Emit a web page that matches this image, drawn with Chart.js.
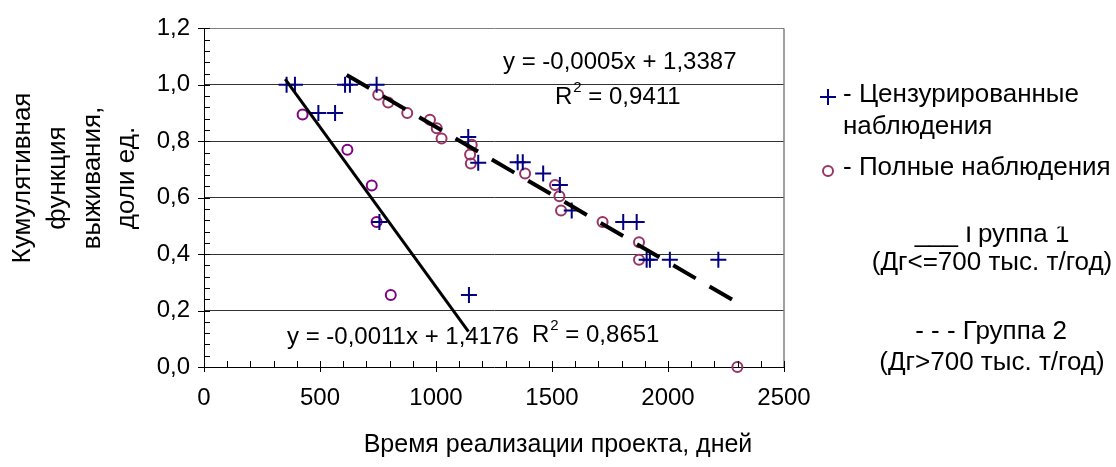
<!DOCTYPE html>
<html>
<head>
<meta charset="utf-8">
<script src="https://cdn.jsdelivr.net/npm/chart.js@4/dist/chart.umd.min.js"></script>
<style>
  html, body { margin: 0; padding: 0; background: #fff; }
  #wrap { width: 1116px; height: 467px; }
</style>
</head>
<body>
<div id="wrap"><canvas id="survivalChart" width="1116" height="467"></canvas></div>
<script>
// группа 1 (Дг<=700) - цензурированные / полные наблюдения
const g1CensX = [356, 392, 493, 565, 756, 1142];
const g1CensY = [1.0, 1.0, 0.9, 0.9, 0.514, 0.255];
const g1FullX = [425, 618, 723, 744, 805];
const g1FullY = [0.895, 0.77, 0.643, 0.514, 0.255];

// группа 2 (Дг>700)
const g2CensX = [608, 629, 744, 1139, 1182, 1352, 1374, 1462, 1534, 1585, 1807, 1865, 1908, 1922, 2008, 2217];
const g2CensY = [1.0, 1.0, 1.0, 0.815, 0.724, 0.726, 0.726, 0.686, 0.645, 0.555, 0.514, 0.514, 0.38, 0.38, 0.38, 0.38];
const g2FullX = [751, 794, 876, 974, 1003, 1024, 1154, 1147, 1150, 1384, 1513, 1532, 1539, 1718, 1875, 1875, 2299];
const g2FullY = [0.965, 0.937, 0.90, 0.876, 0.846, 0.81, 0.788, 0.753, 0.721, 0.686, 0.645, 0.605, 0.555, 0.514, 0.442, 0.38, 0.0];

// линии тренда (концы, как на рисунке)
const trend1X = [350, 1140];
const trend1Y = [1.02, 0.125];
const trend2X = [615, 2299];
const trend2Y = [1.035, 0.228];

const xTicks = [0, 500, 1000, 1500, 2000, 2500];
const yTicks = [0, 0.2, 0.4, 0.6, 0.8, 1.0, 1.2];

const FONT = '"Liberation Sans", Arial, sans-serif';
const NAVY = '#000080';
const PURPLE = '#800080';
const PLUM = '#993366';

const pts = (xs, ys) => xs.map((x, i) => ({ x: x, y: ys[i] }));

// оси, засечки, подписи, легенда
const decorPlugin = {
    id: 'decor',
    afterDraw(chart) {
        const ctx = chart.ctx;
        const xs = chart.scales.x, ys = chart.scales.y;
        const area = chart.chartArea;
        ctx.save();

        // рамка справа
        ctx.strokeStyle = '#808080';
        ctx.lineWidth = 1.5;
        ctx.beginPath();
        ctx.moveTo(area.right, area.top);
        ctx.lineTo(area.right, area.bottom);
        ctx.stroke();

        // засечки оси Y
        ctx.strokeStyle = '#000';
        ctx.lineWidth = 1;
        for (let v = 0; v <= 1.2001; v += 0.04) {
            const py = Math.round(ys.getPixelForValue(v)) + 0.5;
            const major = Math.abs(v / 0.2 - Math.round(v / 0.2)) < 1e-6;
            ctx.beginPath();
            ctx.moveTo(area.left - (major ? 6 : 0), py);
            ctx.lineTo(area.left + 6, py);
            ctx.stroke();
        }
        // засечки оси X
        for (let v = 0; v <= 2500; v += 100) {
            const px = Math.round(xs.getPixelForValue(v)) + 0.5;
            const major = v % 500 === 0;
            ctx.beginPath();
            ctx.moveTo(px, area.bottom + (major ? 5 : 0));
            ctx.lineTo(px, area.bottom - 6);
            ctx.stroke();
        }

        ctx.fillStyle = '#000';
        ctx.textBaseline = 'middle';

        // подпись оси Y
        const yTitle = ['Кумулятивная', 'функция', 'выживания,', 'доли ед.'];
        ctx.font = '26px ' + FONT;
        ctx.save();
        ctx.translate(0, 178);
        ctx.rotate(-Math.PI / 2);
        ctx.textAlign = 'center';
        yTitle.forEach((t, i) => ctx.fillText(t, 0, 23 + i * 34.7));
        ctx.restore();

        // подпись оси X
        ctx.font = '25px ' + FONT;
        ctx.textAlign = 'center';
        ctx.fillText('Время реализации проекта, дней', 558, 445);

        // уравнения трендов
        ctx.font = '24px ' + FONT;
        ctx.textAlign = 'left';
        const rSquared = (x, y, val) => {
            ctx.fillText('R', x, y);
            const w = ctx.measureText('R').width;
            ctx.font = '15px ' + FONT;
            ctx.fillText('2', x + w + 1, y - 9);
            const w2 = ctx.measureText('2').width;
            ctx.font = '24px ' + FONT;
            ctx.fillText(' = ' + val, x + w + w2 + 1, y);
        };
        ctx.fillText('y = -0,0005x + 1,3387', 503, 62);
        rSquared(555, 97, '0,9411');
        ctx.fillText('y = -0,0011x + 1,4176', 287, 337);
        rSquared(532, 335, '0,8651');

        // легенда
        ctx.strokeStyle = NAVY;
        ctx.lineWidth = 2;
        ctx.beginPath();
        ctx.moveTo(820, 97); ctx.lineTo(836, 97);
        ctx.moveTo(828, 89); ctx.lineTo(828, 105);
        ctx.stroke();
        ctx.strokeStyle = PLUM;
        ctx.beginPath();
        ctx.arc(828, 171, 5, 0, Math.PI * 2);
        ctx.stroke();

        ctx.font = '26px ' + FONT;
        ctx.fillText('- Цензурированные', 843, 95);
        ctx.fillText('наблюдения', 843, 127);
        ctx.fillText('- Полные наблюдения', 843, 168);
        ctx.textAlign = 'center';
        ctx.fillText('___ Группа 1', 992, 235);
        // верх строки перекрыт на исходном рисунке
        ctx.fillStyle = '#fff';
        ctx.fillRect(945, 212, 130, 14.5);
        ctx.fillStyle = '#000';
        ctx.fillText('(Дг<=700 тыс. т/год)', 992, 263);
        ctx.fillText('- - - Группа 2', 991, 332);
        ctx.fillText('(Дг>700 тыс. т/год)', 992, 363);

        ctx.restore();
    }
};

const survivalChart = new Chart(document.getElementById('survivalChart').getContext('2d'), {
    type: 'scatter',
    data: {
        datasets: [
            {
                label: 'Тренд 1',
                data: pts(trend1X, trend1Y),
                showLine: true,
                borderColor: '#000',
                borderWidth: 3,
                pointRadius: 0,
                order: 0
            },
            {
                label: 'Тренд 2',
                data: pts(trend2X, trend2Y),
                showLine: true,
                borderColor: '#000',
                borderWidth: 4,
                borderDash: [26, 16],
                borderCapStyle: 'butt',
                pointRadius: 0,
                order: 0
            },
            {
                label: 'Группа 1 - цензурированные',
                data: pts(g1CensX, g1CensY),
                pointStyle: 'cross',
                pointRadius: 8,
                pointBorderWidth: 2,
                pointBorderColor: NAVY,
                order: 1
            },
            {
                label: 'Группа 1 - полные',
                data: pts(g1FullX, g1FullY),
                pointStyle: 'circle',
                pointRadius: 5,
                pointBorderWidth: 2,
                pointBorderColor: PURPLE,
                pointBackgroundColor: 'rgba(0,0,0,0)',
                order: 1
            },
            {
                label: 'Группа 2 - цензурированные',
                data: pts(g2CensX, g2CensY),
                pointStyle: 'cross',
                pointRadius: 8,
                pointBorderWidth: 2,
                pointBorderColor: NAVY,
                order: 1
            },
            {
                label: 'Группа 2 - полные',
                data: pts(g2FullX, g2FullY),
                pointStyle: 'circle',
                pointRadius: 5,
                pointBorderWidth: 2,
                pointBorderColor: PLUM,
                pointBackgroundColor: 'rgba(0,0,0,0)',
                order: 1
            }
        ]
    },
    options: {
        responsive: false,
        animation: false,
        events: [],
        devicePixelRatio: 1,
        clip: false,
        layout: {
            padding: { left: 0, right: 332, top: 24, bottom: 0 }
        },
        plugins: {
            legend: { display: false },
            tooltip: { enabled: false }
        },
        scales: {
            x: {
                type: 'linear',
                min: 0,
                max: 2500,
                afterBuildTicks: s => { s.ticks = xTicks.map(v => ({ value: v })); },
                afterFit: s => { s.height = 100; },
                ticks: {
                    color: '#000',
                    font: { family: FONT, size: 24 },
                    padding: 17,
                    maxRotation: 0,
                    callback: v => String(v)
                },
                grid: { display: false, drawTicks: false },
                border: { display: true, color: '#000', width: 1 }
            },
            y: {
                type: 'linear',
                min: 0,
                max: 1.2,
                afterBuildTicks: s => { s.ticks = yTicks.map(v => ({ value: v })); },
                afterFit: s => { s.width = 204; },
                ticks: {
                    color: '#000',
                    font: { family: FONT, size: 24 },
                    padding: 14,
                    callback: v => v.toFixed(1).replace('.', ',')
                },
                grid: {
                    drawTicks: false,
                    lineWidth: 1,
                    color: c => {
                        const v = c.tick ? c.tick.value : 0;
                        if (Math.abs(v - 1.2) < 1e-6) return '#808080';
                        if (Math.abs(v) < 1e-6) return 'rgba(0,0,0,0)';
                        return '#333';
                    }
                },
                border: { display: true, color: '#000', width: 1 }
            }
        }
    },
    plugins: [decorPlugin]
});
</script>
</body>
</html>
